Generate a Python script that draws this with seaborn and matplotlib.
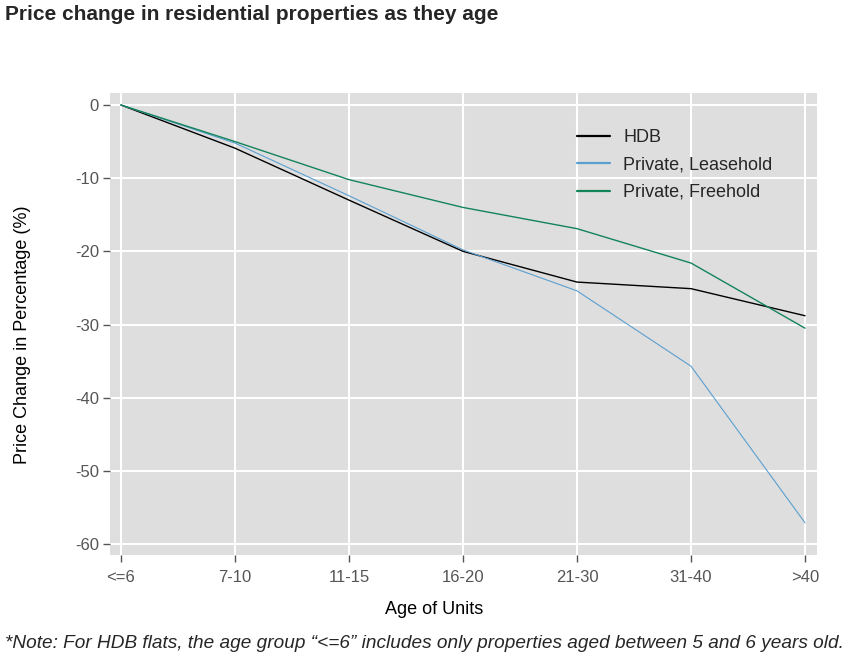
import pandas as pd
import numpy as np
import matplotlib
matplotlib.use("Agg")
import matplotlib.pyplot as plt
import seaborn as sns

age_groups = ["<=6", "7-10", "11-15", "16-20", "21-30", "31-40", ">40"]
hdb = [0, -5.9, -13.0, -20.0, -24.2, -25.1, -28.8]
leasehold = [0, -5.2, -12.4, -19.8, -25.4, -35.7, -57.1]
freehold = [0, -5.0, -10.2, -14.0, -16.9, -21.6, -30.5]

series_names = ["HDB", "Private, Leasehold", "Private, Freehold"]
series_colors = ["#000000", "#5b9fd0", "#13845a"]
y_ticks = [0, -10, -20, -30, -40, -50, -60]

df = pd.DataFrame({
    "age": age_groups * 3,
    "pos": list(range(len(age_groups))) * 3,
    "value": hdb + leasehold + freehold,
    "series": [s for s in series_names for _ in age_groups],
})

sns.set_theme(style="darkgrid", rc={
    "axes.facecolor": "#dedede",
    "grid.color": "white",
    "grid.linewidth": 1.5,
})
plt.rcParams["font.family"] = ["Liberation Sans", "DejaVu Sans"]

W, H = 849, 666
fig = plt.figure(figsize=(W / 100, H / 100), dpi=100)
ax = fig.add_axes([110 / W, 1 - 555 / H, (817 - 110) / W, (555 - 93) / H])

sns.lineplot(data=df, x="pos", y="value", hue="series", hue_order=series_names,
             palette=series_colors, linewidth=1.0, ax=ax, legend=True)
ax.lines[1].set_linewidth(0.8)

ax.set_xlim(-0.096, 6.105)
ax.set_ylim(-61.5, 1.64)
ax.set_xticks(range(len(age_groups)))
ax.set_xticklabels(age_groups)
ax.set_yticks(y_ticks)
ax.set_yticklabels([str(v) for v in y_ticks])
ax.tick_params(axis="both", colors="#555555", labelcolor="#555555", labelsize=12,
               length=5, width=1, direction="out", bottom=True, left=True)
ax.tick_params(axis="x", pad=6)
ax.tick_params(axis="y", pad=3)
for sp in ax.spines.values():
    sp.set_visible(False)

ax.set_xlabel("Age of Units", fontsize=13, color="black")
ax.xaxis.set_label_coords((434 - 110) / (817 - 110), -(601 - 555) / (555 - 93))
ax.set_ylabel("Price Change in Percentage (%)", fontsize=13, color="black")
ax.yaxis.set_label_coords(-(110 - 31) / (817 - 110), (555 - 335) / (555 - 93))

leg = ax.legend(loc="upper left", bbox_to_anchor=((577 - 110) / 707, (555 - 129) / 462),
                frameon=False, fontsize=13, handlelength=1.85, handletextpad=0.7,
                labelspacing=0.58, borderpad=0, borderaxespad=0)
for line in leg.get_lines():
    line.set_linewidth(1.6)

fig.text(5 / W, 1 - 15 / H, "Price change in residential properties as they age",
         fontsize=15, fontweight="bold", va="center", ha="left")
fig.text(5 / W, 1 - 643 / H,
         "*Note: For HDB flats, the age group \u201c<=6\u201d includes only properties aged between 5 and 6 years old.",
         fontsize=13.7, style="italic", va="center", ha="left")

fig.savefig("out.png", dpi=100)
